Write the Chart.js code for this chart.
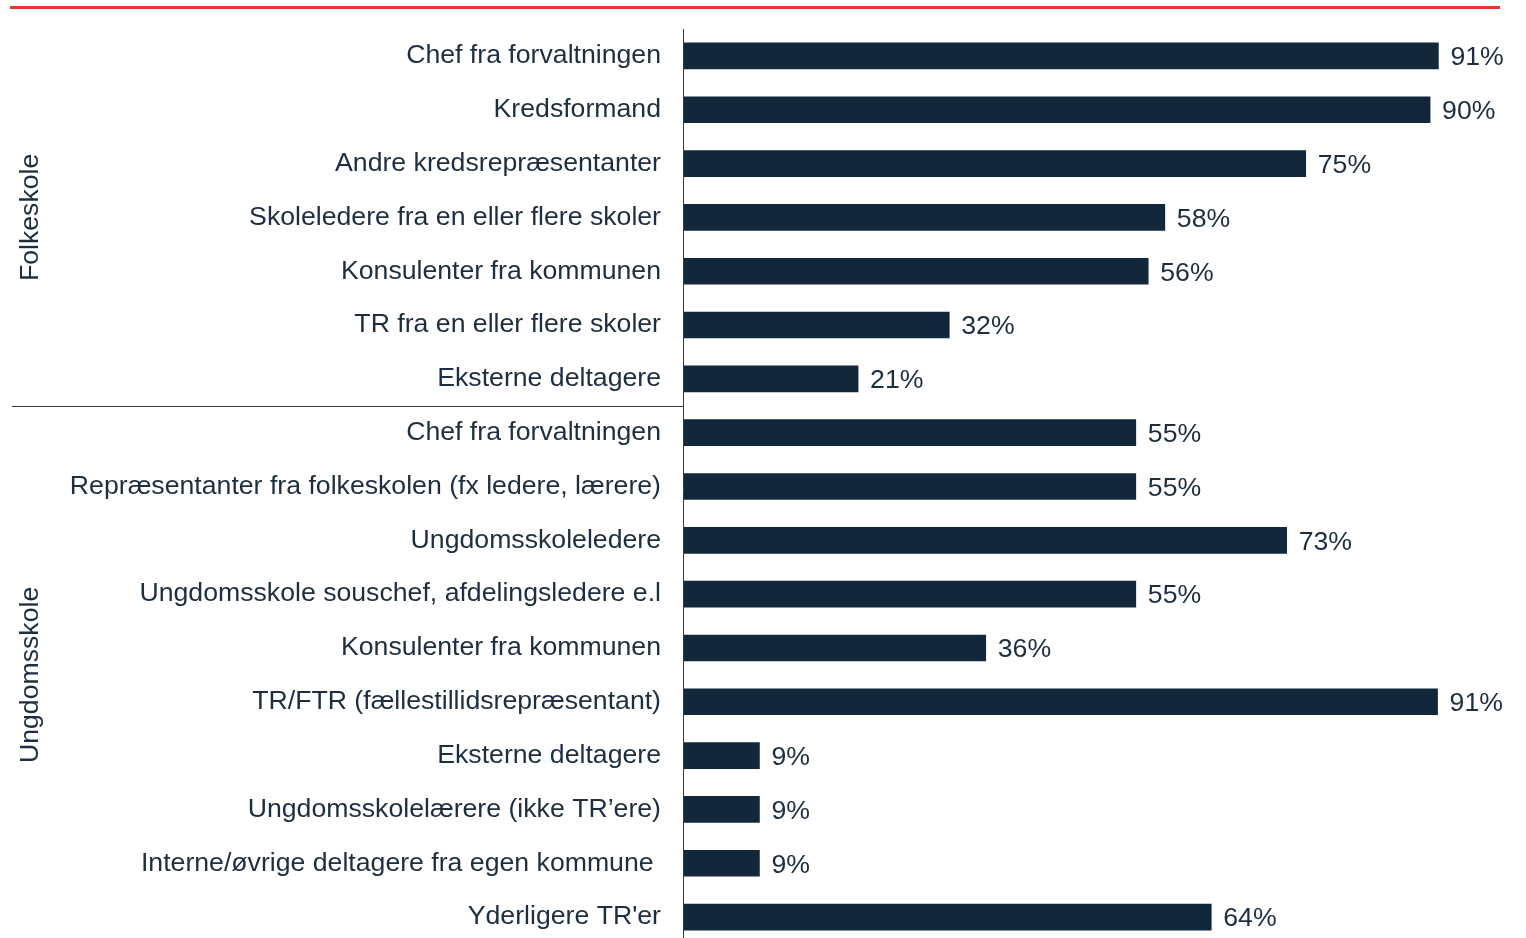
<!DOCTYPE html>
<html>
<head>
<meta charset="utf-8">
<script src="https://cdn.jsdelivr.net/npm/chart.js@4.4.1/dist/chart.umd.min.js"></script>
<style>
html,body{margin:0;padding:0;background:#fff;overflow:hidden;}
#wrap{width:1526px;height:938px;overflow:hidden;position:relative;}
canvas{display:block;}
</style>
</head>
<body>
<div id="wrap"><canvas id="c" width="1526" height="950"></canvas></div>
<script>
const categories = [
  "Chef fra forvaltningen",
  "Kredsformand",
  "Andre kredsrepræsentanter",
  "Skoleledere fra en eller flere skoler",
  "Konsulenter fra kommunen",
  "TR fra en eller flere skoler",
  "Eksterne deltagere",
  "Chef fra forvaltningen",
  "Repræsentanter fra folkeskolen (fx ledere, lærere)",
  "Ungdomsskoleledere",
  "Ungdomsskole souschef, afdelingsledere e.l",
  "Konsulenter fra kommunen",
  "TR/FTR (fællestillidsrepræsentant)",
  "Eksterne deltagere",
  "Ungdomsskolelærere (ikke TR’ere)",
  "Interne/øvrige deltagere fra egen kommune ",
  "Yderligere TR'er"
];
const values = [91, 90, 75, 58, 56, 32, 21, 54.5, 54.5, 72.7, 54.5, 36.4, 90.9, 9.1, 9.1, 9.1, 63.6];
const groupNames = ["Folkeskole", "Ungdomsskole"];
const groupStart = [0, 7];
const groupEnd = [6, 16];

const FONT = '"Liberation Sans", Arial, sans-serif';
const FSIZE = 26.67;
const TEXT = '#1E2D3F';
const BAR = '#13273B';

const extras = {
  id: 'extras',
  afterDraw(chart) {
    const ctx = chart.ctx;
    const y = chart.scales.y, x = chart.scales.x;
    ctx.save();
    ctx.strokeStyle = '#E2382C';
    ctx.lineWidth = 3;
    ctx.beginPath(); ctx.moveTo(10, 7.5); ctx.lineTo(1500, 7.5); ctx.stroke();
    ctx.strokeStyle = '#3a3a3a';
    ctx.lineWidth = 1;
    ctx.beginPath(); ctx.moveTo(x.left - 0.5, chart.chartArea.top); ctx.lineTo(x.left - 0.5, 950); ctx.stroke();
    for (let g = 0; g < groupNames.length - 1; g++) {
      const sy = Math.round((y.getPixelForValue(groupEnd[g]) + y.getPixelForValue(groupStart[g + 1])) / 2) + 0.5;
      ctx.beginPath(); ctx.moveTo(12, sy); ctx.lineTo(x.left, sy); ctx.stroke();
    }
    ctx.fillStyle = TEXT;
    ctx.font = FSIZE + 'px ' + FONT;
    ctx.textAlign = 'center';
    ctx.textBaseline = 'middle';
    for (let g = 0; g < groupNames.length; g++) {
      const cy = (y.getPixelForValue(groupStart[g]) + y.getPixelForValue(groupEnd[g])) / 2;
      ctx.save();
      ctx.translate(31, cy);
      ctx.rotate(-Math.PI / 2);
      ctx.fillText(groupNames[g], 0, 0);
      ctx.restore();
    }
    ctx.textAlign = 'left';
    const meta = chart.getDatasetMeta(0);
    meta.data.forEach((bar, i) => {
      ctx.fillText(Math.round(values[i]) + '%', bar.x + 12, bar.y + 2);
    });
    ctx.restore();
  }
};

new Chart(document.getElementById('c'), {
  type: 'bar',
  data: {
    labels: categories,
    datasets: [{
      data: values,
      backgroundColor: BAR,
      borderWidth: 0,
      barThickness: 26
    }]
  },
  options: {
    indexAxis: 'y',
    responsive: false,
    animation: false,
    layout: { padding: { top: 29, bottom: 6, right: 13, left: 0 } },
    plugins: { legend: { display: false }, tooltip: { enabled: false } },
    scales: {
      x: { display: false, min: 0, max: 100 },
      y: {
        grid: { display: false, drawTicks: false },
        border: { display: false },
        ticks: {
          color: TEXT,
          font: { family: FONT, size: FSIZE },
          padding: 23,
          autoSkip: false
        },
        afterFit(scale) { scale.width = 684; scale.paddingTop = 0; scale.paddingBottom = 0; }
      }
    }
  },
  plugins: [extras]
});
</script>
</body>
</html>
